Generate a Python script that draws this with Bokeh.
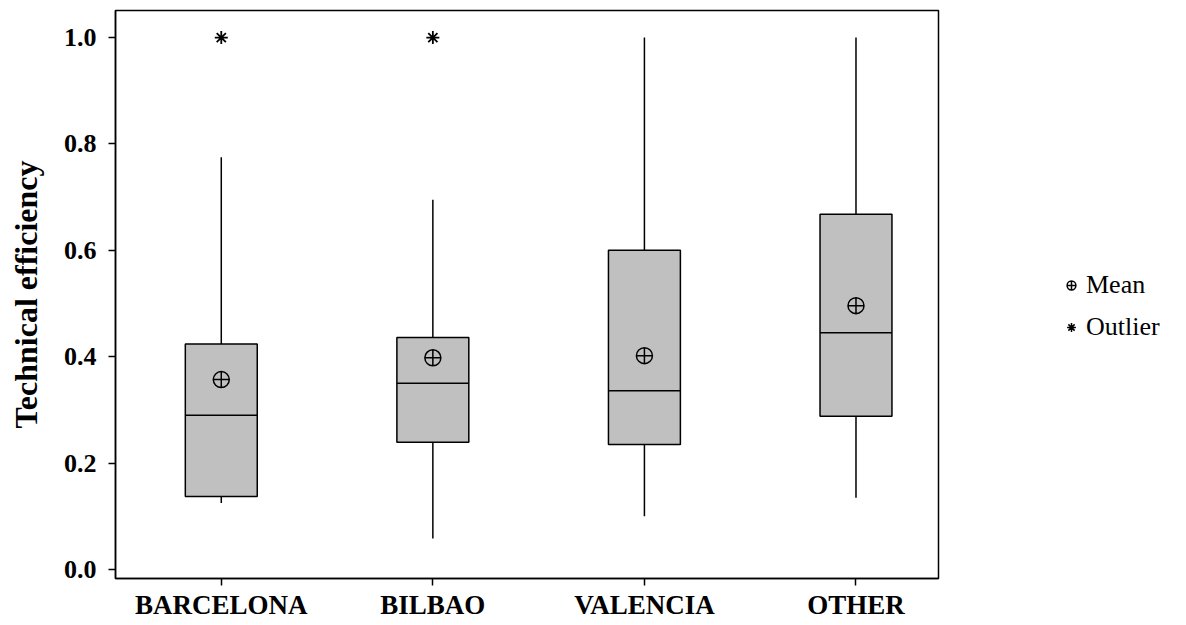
from bokeh.plotting import figure
from bokeh.layouts import row
from bokeh.models import Legend, LegendItem, FixedTicker, Range1d, PrintfTickFormatter
from bokeh.embed import file_html
from bokeh.resources import INLINE

categories = ["BARCELONA", "BILBAO", "VALENCIA", "OTHER"]
whisker_low = [0.125, 0.058, 0.100, 0.135]
q1 = [0.137, 0.239, 0.235, 0.288]
median = [0.290, 0.350, 0.336, 0.445]
q3 = [0.424, 0.436, 0.600, 0.668]
whisker_high = [0.775, 0.695, 1.000, 1.000]
means = [0.357, 0.398, 0.402, 0.496]
outlier_cat = ["BARCELONA", "BILBAO"]
outlier_val = [1.0, 1.0]
y_ticks = [0.0, 0.2, 0.4, 0.6, 0.8, 1.0]

xs = list(range(len(categories)))
ox = [categories.index(c) for c in outlier_cat]
BW = 0.34

SERIF = "Liberation Serif"
H = 622

p = figure(width=940, height=H, output_backend="svg", toolbar_location=None,
           x_range=Range1d(-0.5, 3.39), y_range=Range1d(-0.017, 1.051),
           min_border_left=115, min_border_right=2, min_border_top=10, min_border_bottom=44)
p.grid.visible = False
p.outline_line_color = "black"
p.outline_line_width = 1.5
p.background_fill_color = "white"

# whiskers
p.segment(x0=xs, y0=whisker_low, x1=xs, y1=q1, line_color="black", line_width=1.5)
p.segment(x0=xs, y0=q3, x1=xs, y1=whisker_high, line_color="black", line_width=1.5)
# boxes
p.vbar(x=xs, width=BW, bottom=q1, top=q3, fill_color="#c0c0c0", line_color="black", line_width=1.5)
# medians
p.segment(x0=[x - BW / 2 for x in xs], y0=median, x1=[x + BW / 2 for x in xs], y1=median,
          line_color="black", line_width=1.5)
# means
p.scatter(x=xs, y=means, marker="circle_cross", size=16, fill_color=None,
          line_color="black", line_width=1.5)
# outliers
p.scatter(x=ox, y=outlier_val, marker="asterisk", size=13, line_color="black", line_width=1.8)

for ax in (p.xaxis[0], p.yaxis[0]):
    ax.axis_line_color = "black"
    ax.axis_line_width = 1.5
    ax.major_tick_in = 0
    ax.major_tick_out = 7
    ax.major_tick_line_width = 1.5
    ax.minor_tick_line_color = None
    ax.major_label_text_font = SERIF
    ax.major_label_text_font_style = "bold"
    ax.major_label_text_color = "black"

p.xaxis.major_label_text_font_size = "27px"
p.yaxis.major_label_text_font_size = "26px"
p.xaxis.ticker = FixedTicker(ticks=xs)
p.xaxis.major_label_overrides = {i: c for i, c in enumerate(categories)}
p.xaxis.major_label_standoff = 4
p.yaxis.ticker = FixedTicker(ticks=y_ticks)
p.yaxis.formatter = PrintfTickFormatter(format="%.1f")
p.yaxis.major_label_standoff = 12
p.yaxis.axis_label = "Technical efficiency"
p.yaxis.axis_label_text_font = SERIF
p.yaxis.axis_label_text_font_style = "bold"
p.yaxis.axis_label_text_font_size = "32px"
p.yaxis.axis_label_text_color = "black"
p.yaxis.axis_label_standoff = 17

# legend panel to the right of the plot
lg = figure(width=240, height=H, output_backend="svg", toolbar_location=None,
            x_range=Range1d(0, 1), y_range=Range1d(0, 1),
            min_border_left=0, min_border_right=0, min_border_top=0, min_border_bottom=0)
lg.axis.visible = False
lg.grid.visible = False
lg.outline_line_color = None
# off-screen proxy glyphs so the legend can draw its symbols
r_mean = lg.scatter(x=[-5], y=[-5], marker="circle_cross", size=15, fill_color=None,
                    line_color="black", line_width=1.5)
r_out = lg.scatter(x=[-5], y=[-5], marker="asterisk", size=13, line_color="black", line_width=1.5)

legend = Legend(items=[LegendItem(label="Mean", renderers=[r_mean]),
                       LegendItem(label="Outlier", renderers=[r_out])],
                location=(120, 236), border_line_color=None, background_fill_alpha=0,
                padding=0, margin=0, label_text_color="black",
                label_text_font=SERIF, label_text_font_size="26px", glyph_width=22,
                glyph_height=28, spacing=12, label_standoff=4)
lg.add_layout(legend, "center")

layout = row(p, lg, spacing=0)
open("out.html", "w").write(file_html(layout, INLINE))
